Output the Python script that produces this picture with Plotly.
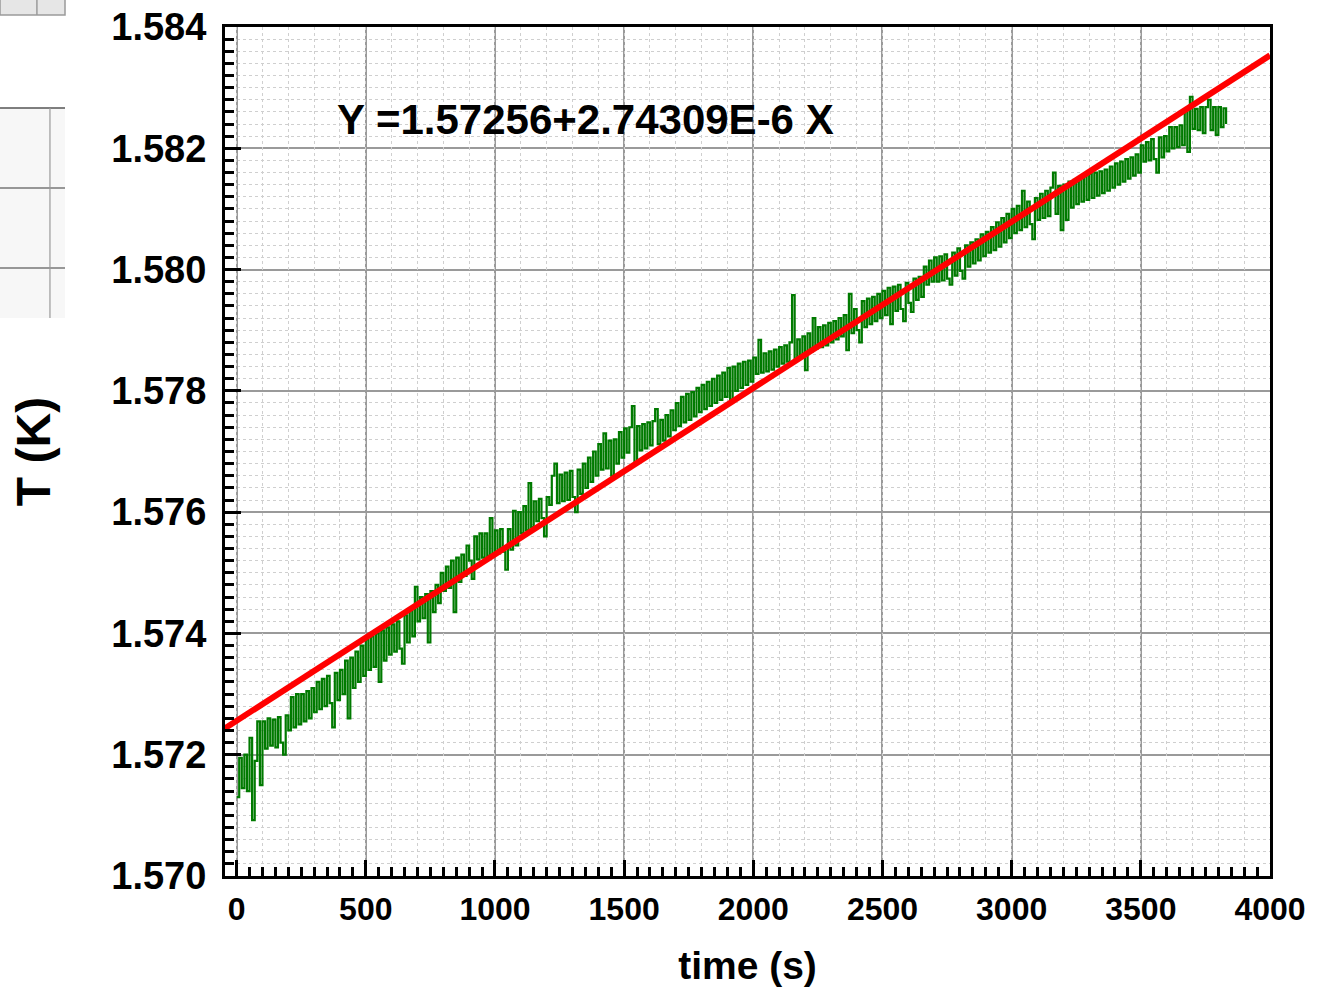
import plotly.graph_objects as go

# ---- data ----
time_step_s = 10
T_K = [
    1.57130, 1.57195, 1.57145, 1.57200, 1.57140, 1.57228, 1.57092, 1.57190, 1.57255, 1.57150,
    1.57255, 1.57210, 1.57260, 1.57215, 1.57258, 1.57212, 1.57262, 1.57220, 1.57200, 1.57265,
    1.57240, 1.57295, 1.57245, 1.57300, 1.57250, 1.57300, 1.57255, 1.57305, 1.57260, 1.57310,
    1.57270, 1.57320, 1.57275, 1.57325, 1.57280, 1.57330, 1.57285, 1.57245, 1.57335, 1.57290,
    1.57340, 1.57300, 1.57355, 1.57260, 1.57360, 1.57310, 1.57370, 1.57320, 1.57380, 1.57330,
    1.57390, 1.57340, 1.57395, 1.57345, 1.57400, 1.57320, 1.57405, 1.57355, 1.57410, 1.57365,
    1.57415, 1.57370, 1.57420, 1.57375, 1.57350, 1.57430, 1.57385, 1.57440, 1.57395, 1.57477,
    1.57420, 1.57460, 1.57425, 1.57465, 1.57385, 1.57470, 1.57435, 1.57480, 1.57450, 1.57500,
    1.57470, 1.57510, 1.57475, 1.57520, 1.57435, 1.57525, 1.57485, 1.57530, 1.57495, 1.57545,
    1.57520, 1.57490, 1.57560, 1.57522, 1.57565, 1.57525, 1.57565, 1.57528, 1.57590, 1.57530,
    1.57570, 1.57532, 1.57572, 1.57535, 1.57505, 1.57572, 1.57538, 1.57602, 1.57545, 1.57600,
    1.57565, 1.57610, 1.57570, 1.57648, 1.57575, 1.57618, 1.57585, 1.57622, 1.57590, 1.57560,
    1.57625, 1.57612, 1.57660, 1.57680, 1.57615, 1.57662, 1.57618, 1.57665, 1.57620, 1.57668,
    1.57625, 1.57600, 1.57670, 1.57630, 1.57680, 1.57640, 1.57690, 1.57650, 1.57700, 1.57660,
    1.57712, 1.57670, 1.57730, 1.57672, 1.57718, 1.57660, 1.57720, 1.57680, 1.57732, 1.57690,
    1.57738, 1.57698, 1.57740, 1.57775, 1.57682, 1.57742, 1.57702, 1.57745, 1.57705, 1.57748,
    1.57710, 1.57750, 1.57770, 1.57712, 1.57752, 1.57718, 1.57760, 1.57725, 1.57768, 1.57735,
    1.57780, 1.57742, 1.57790, 1.57748, 1.57795, 1.57752, 1.57798, 1.57758, 1.57805, 1.57765,
    1.57810, 1.57770, 1.57815, 1.57775, 1.57820, 1.57780, 1.57825, 1.57785, 1.57830, 1.57790,
    1.57838, 1.57785, 1.57840, 1.57800, 1.57845, 1.57805, 1.57848, 1.57810, 1.57850, 1.57815,
    1.57855, 1.57828, 1.57884, 1.57830, 1.57862, 1.57832, 1.57865, 1.57835, 1.57868, 1.57840,
    1.57872, 1.57845, 1.57875, 1.57848, 1.57880, 1.57958, 1.57850, 1.57885, 1.57855, 1.57890,
    1.57834, 1.57895, 1.57865, 1.57920, 1.57870, 1.57905, 1.57872, 1.57908, 1.57875, 1.57912,
    1.57880, 1.57915, 1.57885, 1.57920, 1.57890, 1.57925, 1.57867, 1.57960, 1.57895, 1.57935,
    1.57900, 1.57880, 1.57948, 1.57905, 1.57952, 1.57910, 1.57955, 1.57915, 1.57960, 1.57920,
    1.57965, 1.57925, 1.57970, 1.57910, 1.57972, 1.57932, 1.57975, 1.57935, 1.57915, 1.57978,
    1.57945, 1.57930, 1.57985, 1.57950, 1.57988, 1.57955, 1.58005, 1.57975, 1.58015, 1.57980,
    1.58020, 1.57980, 1.58022, 1.57982, 1.58025, 1.57985, 1.57975, 1.58028, 1.57990, 1.58035,
    1.57998, 1.57985, 1.58040, 1.58005, 1.58045, 1.58010, 1.58050, 1.58015, 1.58058, 1.58022,
    1.58062, 1.58028, 1.58070, 1.58032, 1.58078, 1.58038, 1.58085, 1.58045, 1.58092, 1.58052,
    1.58100, 1.58060, 1.58105, 1.58065, 1.58130, 1.58070, 1.58112, 1.58075, 1.58050, 1.58118,
    1.58082, 1.58125, 1.58085, 1.58130, 1.58088, 1.58135, 1.58160, 1.58092, 1.58138, 1.58065,
    1.58140, 1.58082, 1.58145, 1.58102, 1.58148, 1.58108, 1.58150, 1.58112, 1.58155, 1.58115,
    1.58158, 1.58118, 1.58160, 1.58122, 1.58162, 1.58126, 1.58165, 1.58130, 1.58170, 1.58135,
    1.58175, 1.58140, 1.58178, 1.58145, 1.58182, 1.58150, 1.58185, 1.58155, 1.58190, 1.58160,
    1.58205, 1.58178, 1.58210, 1.58180, 1.58215, 1.58182, 1.58160, 1.58218, 1.58185, 1.58220,
    1.58195, 1.58235, 1.58200, 1.58235, 1.58202, 1.58238, 1.58205, 1.58262, 1.58194, 1.58285,
    1.58232, 1.58265, 1.58230, 1.58268, 1.58225, 1.58268, 1.58280, 1.58230, 1.58268, 1.58222,
    1.58268, 1.58235, 1.58266, 1.58240,
]
time_s = [i * time_step_s for i in range(len(T_K))]

fit_intercept = 1.57256
fit_slope = 2.74309e-6
fit_x = [-45, 4000]
fit_y = [fit_intercept + fit_slope * x for x in fit_x]
fit_label = "Y =1.57256+2.74309E-6 X"

x_range = [-45, 4000]
y_range = [1.570, 1.584]
x_ticks = [0, 500, 1000, 1500, 2000, 2500, 3000, 3500, 4000]
y_ticks = [1.570, 1.572, 1.574, 1.576, 1.578, 1.580, 1.582, 1.584]

FONT = "Liberation Sans, Arial, Helvetica, sans-serif"

fig = go.Figure()
# invisible trace on the secondary (grid-only) x axis
fig.add_trace(go.Scatter(x=x_range, y=y_range, xaxis="x2", mode="markers",
                         marker=dict(opacity=0), hoverinfo="skip", showlegend=False))
fig.add_trace(go.Scatter(x=time_s, y=T_K, mode="lines", line=dict(color="#007a00", width=2.2, shape="hv"),
                         showlegend=False))
fig.add_trace(go.Scatter(x=fit_x, y=fit_y, mode="lines", line=dict(color="#ff0000", width=6),
                         showlegend=False))

fig.update_layout(
    width=1320, height=992,
    margin=dict(l=225, r=50, t=27, b=116, autoexpand=False),
    paper_bgcolor="white", plot_bgcolor="white",
    font=dict(family=FONT, color="black"),
    xaxis=dict(
        range=x_range, tickvals=x_ticks, ticktext=[str(v) for v in x_ticks],
        ticks="inside", ticklen=16, tickwidth=2.5, tickcolor="black",
        showline=True, linecolor="black", linewidth=3, mirror=True,
        showgrid=True, gridcolor="#9a9a9a", gridwidth=1.5, zeroline=False,
        tickfont=dict(size=32, weight="bold"), automargin=False,
        ticklabelstandoff=3, ticklabeloverflow="allow",
        title=dict(text="time (s)", font=dict(size=39, weight="bold"), standoff=26),
        minor=dict(dtick=50, tick0=0, ticks="inside", ticklen=9, tickwidth=2.5, tickcolor="black",
                   showgrid=False),
    ),
    xaxis2=dict(
        overlaying="x", matches="x", range=x_range, side="bottom",
        showticklabels=False, ticks="", showline=False, zeroline=False,
        tick0=0, dtick=100, showgrid=True, gridcolor="#cfcfcf", gridwidth=1, griddash="dot",
    ),
    yaxis=dict(
        range=y_range, tickvals=y_ticks, tickformat=".3f",
        ticks="inside", ticklen=16, tickwidth=2.5, tickcolor="black",
        showline=True, linecolor="black", linewidth=3, mirror=True,
        showgrid=True, gridcolor="#9a9a9a", gridwidth=1.5, zeroline=False,
        tickfont=dict(size=38, weight="bold"), automargin=False,
        ticklabelstandoff=8, ticklabeloverflow="allow",
        title=dict(text="T (K)", font=dict(size=48, weight="bold"), standoff=46),
        minor=dict(dtick=0.0002, tick0=1.570, ticks="inside", ticklen=9, tickwidth=2.5, tickcolor="black",
                   showgrid=True, gridcolor="#cfcfcf", gridwidth=1, griddash="dot"),
    ),
    shapes=[
        # white box behind the fit equation
        dict(type="rect", xref="paper", yref="paper", x0=0.0794, x1=0.6096, y0=0.852, y1=0.922,
             fillcolor="white", line=dict(width=0), layer="between"),
        # screenshot remnants at the left edge
        dict(type="rect", xref="paper", yref="paper", x0=-0.2153, x1=-0.1531, y0=1.014, y1=1.034,
             fillcolor="#e6e6e6", line=dict(color="#9a9a9a", width=1.5), layer="above"),
        dict(type="line", xref="paper", yref="paper", x0=-0.180, x1=-0.180, y0=1.014, y1=1.034,
             line=dict(color="#9a9a9a", width=1.5)),
        dict(type="rect", xref="paper", yref="paper", x0=-0.2153, x1=-0.1531, y0=0.6572, y1=0.9046,
             fillcolor="#f7f7f7", line=dict(width=0), layer="above"),
        dict(type="line", xref="paper", yref="paper", x0=-0.2153, x1=-0.1531, y0=0.9046, y1=0.9046,
             line=dict(color="#555555", width=1.5)),
        dict(type="line", xref="paper", yref="paper", x0=-0.2153, x1=-0.1531, y0=0.8104, y1=0.8104,
             line=dict(color="#777777", width=1.5)),
        dict(type="line", xref="paper", yref="paper", x0=-0.2153, x1=-0.1531, y0=0.7161, y1=0.7161,
             line=dict(color="#777777", width=1.5)),
        dict(type="line", xref="paper", yref="paper", x0=-0.1675, x1=-0.1675, y0=0.6572, y1=0.9046,
             line=dict(color="#999999", width=1.2)),
    ],
    annotations=[
        dict(text=fit_label, xref="paper", yref="paper", x=0.345, y=0.891,
             xanchor="center", yanchor="middle", showarrow=False,
             font=dict(size=42, weight="bold", family=FONT, color="black")),
    ],
)

fig.write_html("out.html", config={"displayModeBar": False},
               post_script="document.body.style.margin='0';")
